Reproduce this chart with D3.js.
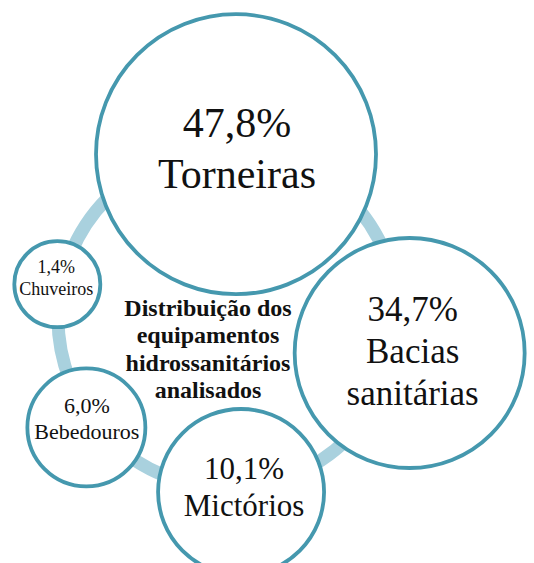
<!DOCTYPE html>
<html><head><meta charset="utf-8">
<script src="https://cdn.jsdelivr.net/npm/d3@7"></script>
<style>html,body{margin:0;padding:0;background:#fff;}</style>
</head><body>
<svg id="chart" width="534" height="563"></svg>
<script>
// ---- data ----
const categories = ["Torneiras", "Bacias sanitárias", "Mictórios", "Bebedouros", "Chuveiros"];
const values = [47.8, 34.7, 10.1, 6.0, 1.4];
const labelLines = [["Torneiras"], ["Bacias", "sanitárias"], ["Mictórios"], ["Bebedouros"], ["Chuveiros"]];
const titleLines = ["Distribuição dos", "equipamentos", "hidrossanitários", "analisados"];

// ---- layout (styling, not data) ----
const ring = {cx: 228, cy: 318, r: 170};
const nodeAngle = [2.8, 100.9, 175.7, 232.3, 281.2];   // degrees clockwise from top
const nodeDist  = [164, 185, 174.5, 179, 174];
const nodeRadius = [140, 115, 83, 59, 43];
const nodeFont = [42, 35, 31, 22, 18];
const nodeDy = [-17, -32, -13, -14.5, -11];
const nodeDx = [1, 3, 3, 0.5, -1];

const fmt = v => d3.format(".1f")(v).replace(".", ",") + "%";
const svg = d3.select("#chart");

const nodes = categories.map((c, i) => {
  const a = nodeAngle[i] * Math.PI / 180;
  return {
    cat: c, value: values[i], lines: [fmt(values[i])].concat(labelLines[i]),
    x: ring.cx + nodeDist[i] * Math.sin(a),
    y: ring.cy - nodeDist[i] * Math.cos(a),
    r: nodeRadius[i], fs: nodeFont[i], dy: nodeDy[i], dx: nodeDx[i]
  };
});

// ring
svg.append("circle")
  .attr("cx", ring.cx).attr("cy", ring.cy).attr("r", ring.r)
  .attr("fill", "none").attr("stroke", "#a9d1de").attr("stroke-width", 13);

// nodes
const g = svg.selectAll("g.node").data(nodes).join("g").attr("class", "node")
  .attr("transform", d => `translate(${d.x},${d.y})`);
g.append("circle").attr("r", d => d.r)
  .attr("fill", "#fff").attr("stroke", "#4598ae").attr("stroke-width", 3.8);
g.each(function(d) {
  const t = d3.select(this).append("text")
    .attr("text-anchor", "middle")
    .attr("font-family", "'Liberation Serif', 'Times New Roman', serif")
    .attr("font-size", d.fs).attr("fill", "#111");
  d.lines.forEach((l, k) => {
    t.append("tspan").attr("x", d.dx).attr("y", d.dy + k * d.fs * 1.2).text(l);
  });
});

// center title
const tt = svg.append("text")
  .attr("text-anchor", "middle")
  .attr("font-family", "'Liberation Serif', 'Times New Roman', serif")
  .attr("font-weight", "bold").attr("font-size", 24).attr("fill", "#111");
titleLines.forEach((l, k) => {
  tt.append("tspan").attr("x", 208).attr("y", 316 + k * 27.3).text(l);
});
</script>
</body></html>
